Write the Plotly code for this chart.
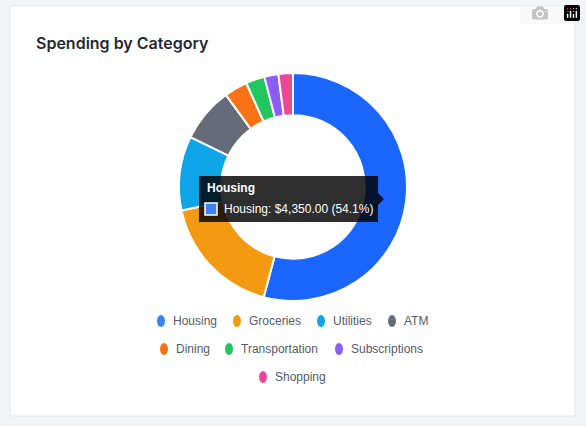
import plotly.graph_objects as go

categories = ["Housing", "Groceries", "Utilities", "ATM", "Dining", "Transportation", "Subscriptions", "Shopping"]
values = [4350, 1410, 845, 625, 265, 215, 160, 165]
colors = ["#1a66ff", "#f39a12", "#0ea5e9", "#656b78", "#f97316", "#22c55e", "#8b5cf6", "#ec4899"]
legend_colors = ["#3b82f6", "#f39a12", "#0ea5e9", "#656b78", "#f97316", "#22c55e", "#8b5cf6", "#ec4899"]

W, H = 586, 426
def px(x): return x / W
def py(y): return 1 - y / H

fig = go.Figure(go.Pie(
    labels=categories, values=values, sort=False, direction="clockwise", rotation=0,
    hole=0.63, textinfo="none", showlegend=False,
    marker=dict(colors=colors, line=dict(color="#ffffff", width=2)),
    domain=dict(x=[px(179), px(407)], y=[py(301), py(73)]),
))

shapes = [dict(type="rect", xref="paper", yref="paper", x0=px(10), x1=px(575), y0=py(416), y1=py(6),
               fillcolor="#ffffff", line=dict(color="#e5e7eb", width=1), layer="below")]
annotations = [dict(text="Spending by Category", xref="paper", yref="paper", x=px(34), y=py(43),
                    xanchor="left", yanchor="middle", showarrow=False,
                    font=dict(size=16, color="#1f2937", family="Inter", weight=600))]

rows = [[0, 1, 2, 3], [4, 5, 6], [7]]
row_y = [321, 349, 377]
row_x = [[161, 237, 321, 392], [164, 229, 339], [263]]
for r, idxs in enumerate(rows):
    for k, i in enumerate(idxs):
        mx, my = row_x[r][k], row_y[r]
        shapes.append(dict(type="circle", xref="paper", yref="paper", x0=px(mx - 4), x1=px(mx + 4),
                           y0=py(my + 6), y1=py(my - 6), fillcolor=legend_colors[i], line=dict(width=0)))
        annotations.append(dict(text=categories[i], xref="paper", yref="paper", x=px(mx + 10), y=py(my),
                                xanchor="left", yanchor="middle", showarrow=False,
                                font=dict(size=12, color="#555b66", family="Liberation Sans")))

total = sum(values)
shapes.append(dict(type="rect", xref="paper", yref="paper", x0=px(199), x1=px(378), y0=py(222), y1=py(176),
                   fillcolor="rgba(0,0,0,0.82)", line=dict(width=0)))
shapes.append(dict(type="path", xref="paper", yref="paper",
                   path=f"M {px(378)} {py(193)} L {px(384)} {py(199)} L {px(378)} {py(205)} Z",
                   fillcolor="rgba(0,0,0,0.82)", line=dict(width=0)))
shapes.append(dict(type="rect", xref="paper", yref="paper", x0=px(205), x1=px(217), y0=py(215), y1=py(203),
                   fillcolor=legend_colors[0], line=dict(color="#ffffff", width=1.5)))
annotations.append(dict(text=f"<b>{categories[0]}</b>", xref="paper", yref="paper", x=px(205), y=py(188),
                        xanchor="left", yanchor="middle", showarrow=False,
                        font=dict(size=12, color="#ffffff", family="Liberation Sans")))
annotations.append(dict(text=f"{categories[0]}: ${values[0]:,.2f} ({values[0]/total*100:.1f}%)",
                        xref="paper", yref="paper", x=px(222), y=py(209),
                        xanchor="left", yanchor="middle", showarrow=False,
                        font=dict(size=12, color="#ffffff", family="Liberation Sans")))

fig.update_layout(width=W, height=H, margin=dict(l=0, r=0, t=0, b=0),
                  paper_bgcolor="#f3f4f6", plot_bgcolor="#f3f4f6",
                  shapes=shapes, annotations=annotations)
fig.write_html("out.html",
               post_script="document.body.style.margin='0';document.body.style.background='#f3f4f6';")
